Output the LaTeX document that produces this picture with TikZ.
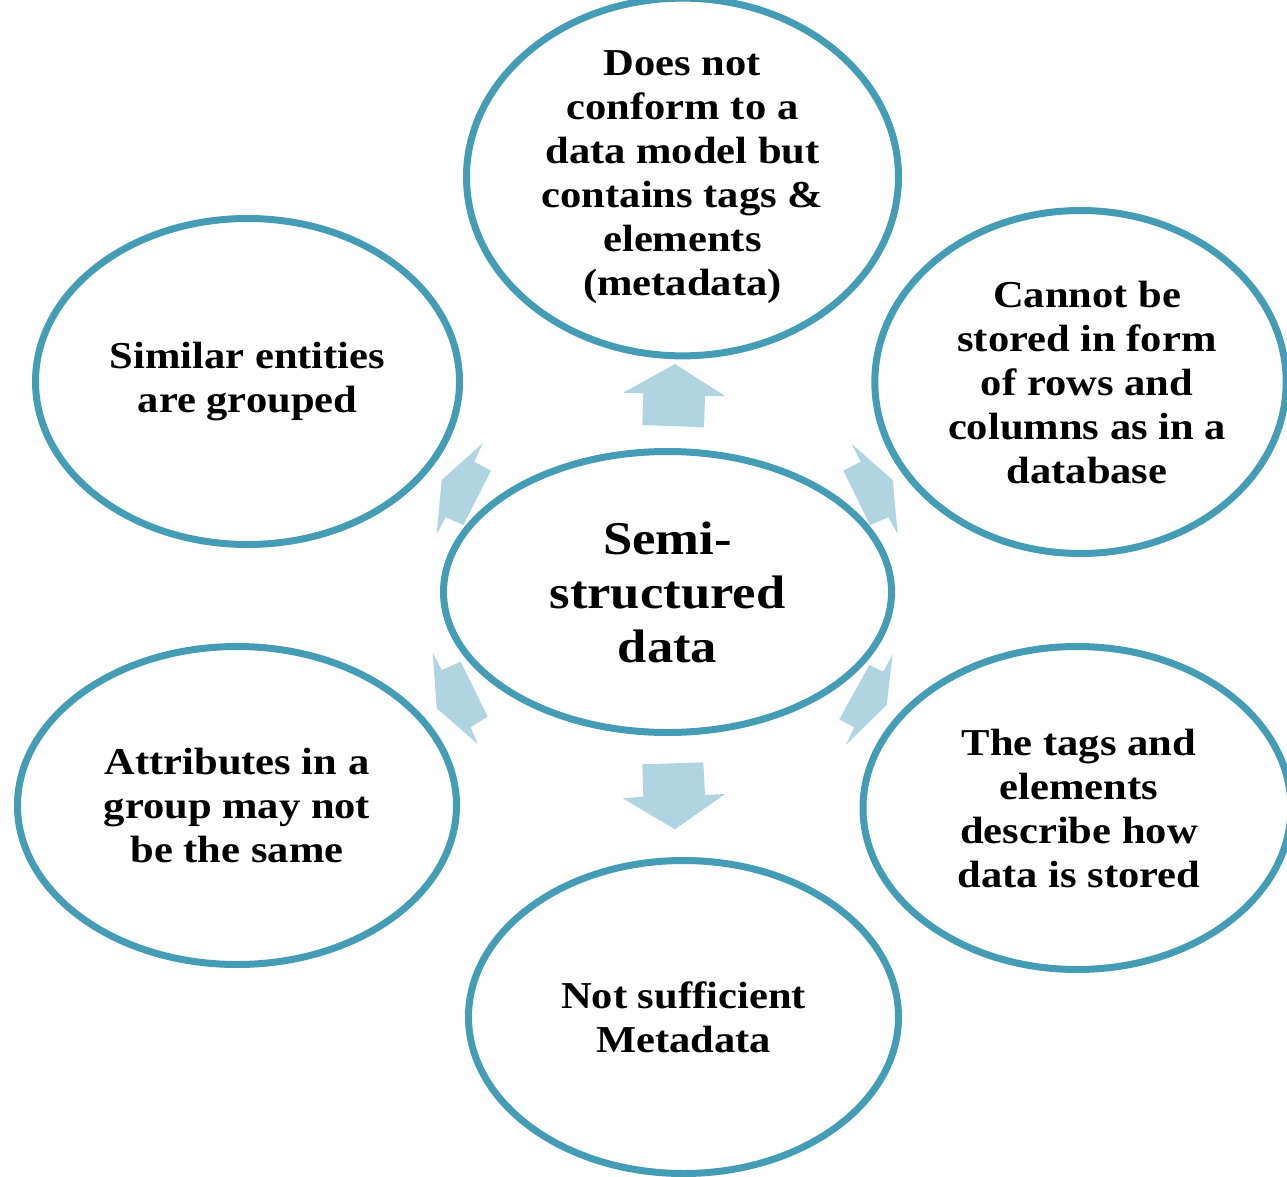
\documentclass[tikz,border=0pt]{standalone}
\usepackage{fontspec}
\setmainfont[FakeStretch=1.12]{Liberation Serif}
\usetikzlibrary{shapes.geometric}
\definecolor{ringblue}{RGB}{69,157,181}
\definecolor{arrowfill}{RGB}{176,212,224}
\tikzset{
  bubble/.style={ellipse, draw=ringblue, line width=7pt, fill=white,
    inner sep=0pt, align=center, font=\bfseries\fontsize{38}{44}\selectfont},
  hub/.style={bubble, font=\bfseries\fontsize{47}{54}\selectfont},
  blockarrow/.style={fill=arrowfill, draw=none}
}
\begin{document}
\begin{tikzpicture}[x=1pt,y=-1pt]
\useasboundingbox (0,0) rectangle (1287,1177);
\clip (0,0) rectangle (1287,1177);

% outer bubbles
\node[bubble, minimum width=432pt, minimum height=303pt] (top) at (682.5,177)
  {Does not\\conform to a\\data model but\\contains tags \&\\elements\\(metadata)};
\node[bubble, minimum width=424pt, minimum height=326pt] (topleft) at (247.5,381.5)
  {\raisebox{-3pt}{Similar entities}\\\raisebox{-3pt}{are grouped}};
\node[bubble, minimum width=402pt, minimum height=343pt] (topright) at (1080.5,382)
  {\hspace*{13pt}Cannot be\\\hspace*{13pt}stored in form\\\hspace*{13pt}of rows and\\\hspace*{13pt}columns as in a\\\hspace*{13pt}database};
\node[bubble, minimum width=439pt, minimum height=318pt] (bottomleft) at (237,805.5)
  {Attributes in a\\group may not\\be the same};
\node[bubble, minimum width=428pt, minimum height=323pt] (bottomright) at (1077,808)
  {\hspace*{4pt}The tags and\\\hspace*{4pt}elements\\\hspace*{4pt}describe how\\\hspace*{4pt}data is stored};
\node[bubble, minimum width=430pt, minimum height=313pt] (bottom) at (683.5,1017)
  {Not sufficient\\Metadata};

% centre bubble
\node[hub, minimum width=448pt, minimum height=281pt] (centre) at (667.5,592)
  {Semi-\\structured\\data};

% block arrows pointing outwards from the centre
\fill[blockarrow] (675,364) -- (725,396) -- (705,396) -- (704,427.3)
  -- (642.3,425) -- (643.3,393.3) -- (623.3,392.7) -- cycle;
\fill[blockarrow] (642.3,764.3) -- (703.3,762.3) -- (705,795) -- (725,794)
  -- (675,829.3) -- (622.7,798.3) -- (643.3,796.7) -- cycle;
\fill[blockarrow] (482.7,443.3) -- (474.3,461.7) -- (491,470.7) -- (463.3,525)
  -- (445.7,517.3) -- (436.7,534) -- (441.7,480) -- cycle;
\fill[blockarrow] (851.7,444) -- (860.7,461.7) -- (843.3,470.7) -- (870,525)
  -- (888.3,517.3) -- (897.7,534) -- (892.7,480) -- cycle;
\fill[blockarrow] (432.7,652.7) -- (441.7,670) -- (460.7,661.7) -- (487.7,716.7)
  -- (470.7,727.3) -- (477.7,744) -- (436.7,708.3) -- cycle;
\fill[blockarrow] (892.7,654) -- (883.3,671.7) -- (869.3,665) -- (839.3,719.3)
  -- (854.3,727.3) -- (845.7,745) -- (886.7,705) -- cycle;
\end{tikzpicture}
\end{document}
